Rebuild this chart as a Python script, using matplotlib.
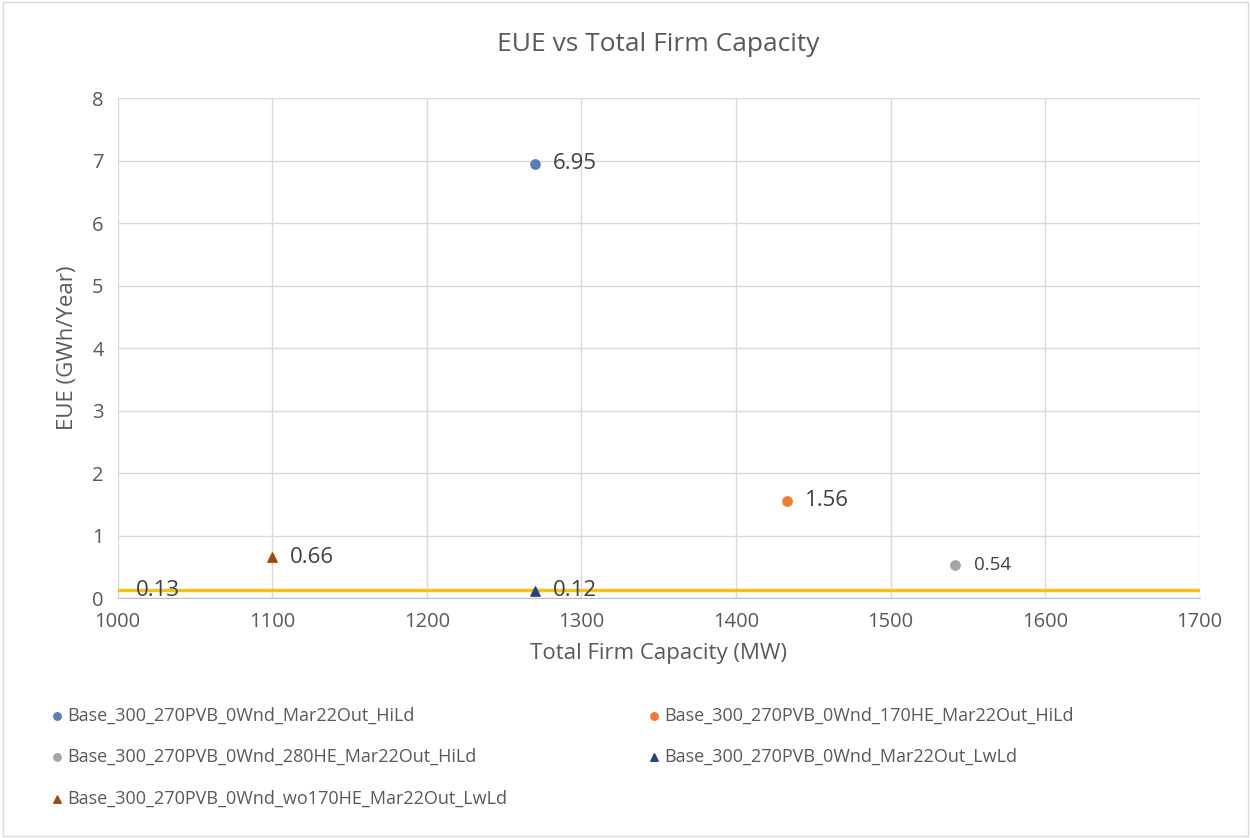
import matplotlib.pyplot as plt

plt.rcParams['font.family'] = ['Open Sans', 'DejaVu Sans']

# data
series_names = ['Base_300_270PVB_0Wnd_Mar22Out_HiLd',
                'Base_300_270PVB_0Wnd_170HE_Mar22Out_HiLd',
                'Base_300_270PVB_0Wnd_280HE_Mar22Out_HiLd',
                'Base_300_270PVB_0Wnd_Mar22Out_LwLd',
                'Base_300_270PVB_0Wnd_wo170HE_Mar22Out_LwLd']
capacity = [1270, 1433, 1542, 1270, 1100]
eue = [6.95, 1.56, 0.54, 0.12, 0.66]
labels = ['6.95', '1.56', '0.54', '0.12', '0.66']
colors = ['#5a7fb5', '#ed7d31', '#a5a5a5', '#264478', '#9e480e']
markers = ['o', 'o', 'o', '^', '^']

ref_x = [1000, 1700]
ref_y = [0.13, 0.13]

fig = plt.figure(figsize=(12.51, 8.38), dpi=100)
ax = fig.add_axes([0.094, 0.286, 0.865, 0.597])

handles = []
for i in range(len(series_names)):
    h = ax.scatter(capacity[i], eue[i], s=45, marker=markers[i], color=colors[i],
                   zorder=4, label=series_names[i])
    handles.append(h)
    fs = 13.5 if labels[i] == '0.54' else 16
    ax.annotate(labels[i], (capacity[i], eue[i]), xytext=(13, 0), textcoords='offset points',
                va='center', ha='left', fontsize=fs, color='#404040', zorder=5)

ax.plot(ref_x, ref_y, color='#ffc000', lw=2.5, zorder=3)
ax.annotate('0.13', (ref_x[0], ref_y[0]), xytext=(13, 0), textcoords='offset points',
            va='center', ha='left', fontsize=16, color='#404040', zorder=5)

ax.set_xlim(1000, 1700)
ax.set_ylim(0, 8)
ax.set_xticks(range(1000, 1701, 100))
ax.set_yticks(range(0, 9))
ax.grid(True, color='#d9d9d9', lw=1)
ax.set_axisbelow(True)
for sp in ax.spines.values():
    sp.set_visible(False)
ax.spines['bottom'].set_visible(True)
ax.spines['bottom'].set_color('#bfbfbf')
ax.tick_params(length=0, labelsize=14.5, labelcolor='#595959', pad=10)

ax.set_title('EUE vs Total Firm Capacity', fontsize=19, color='#595959', pad=34)
ax.set_xlabel('Total Firm Capacity (MW)', fontsize=16, color='#595959', labelpad=8)
ax.set_ylabel('EUE (GWh/Year)', fontsize=16, color='#595959', labelpad=10)

order = [0, 2, 4, 1, 3]
fig.legend([handles[k] for k in order], [series_names[k] for k in order],
           loc='upper left', bbox_to_anchor=(0.025, 0.176), ncol=2, frameon=False,
           fontsize=13, labelcolor='#595959', handletextpad=0.1, markerscale=0.8,
           columnspacing=7.6, labelspacing=1.3, handlelength=1.0)

# outer frame
fig.patches.append(plt.Rectangle((0.002, 0.002), 0.996, 0.996, transform=fig.transFigure,
                                 fill=False, edgecolor='#d9d9d9', lw=1))

fig.savefig('out.png', dpi=100)
